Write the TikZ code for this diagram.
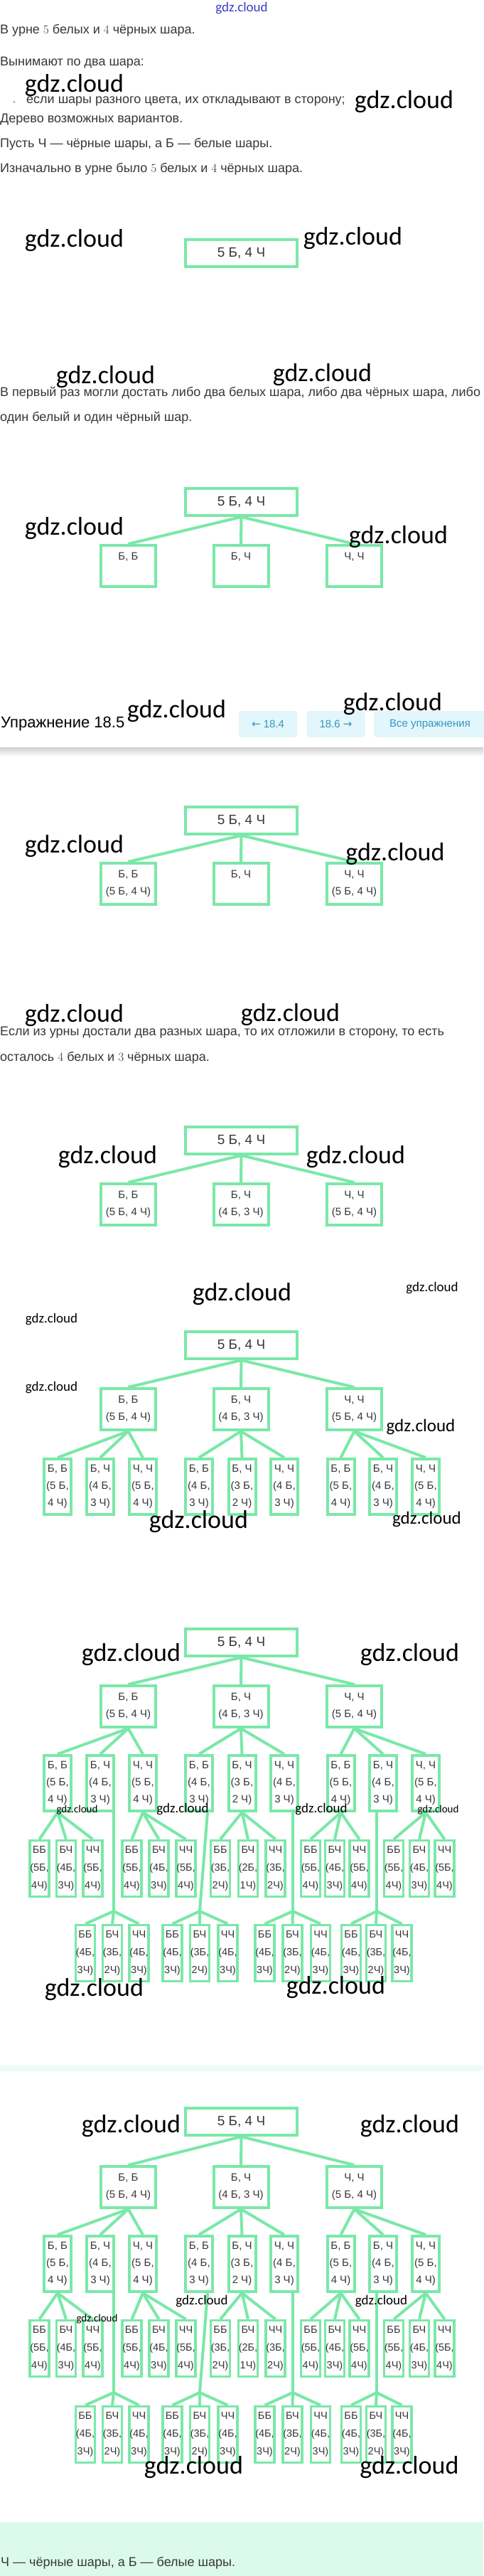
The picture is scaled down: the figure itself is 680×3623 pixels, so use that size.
\documentclass[tikz,border=0pt]{standalone}
\usepackage[no-math]{fontspec}
\setmainfont{Liberation Sans}
\newfontfamily\marcafont{Carlito}
\newfontfamily\flechafont{DejaVu Sans}
\usetikzlibrary{positioning}
\definecolor{menta}{RGB}{122,232,168}
\definecolor{grist}{RGB}{55,55,55}
\definecolor{celeste}{RGB}{226,246,251}
\definecolor{azulb}{RGB}{52,150,190}
\definecolor{fondo}{RGB}{220,250,236}
\definecolor{raya}{RGB}{236,251,248}
\definecolor{tinta}{RGB}{60,60,200}
\tikzset{
  txt/.style={anchor=west, inner sep=0pt, text=grist, font=\fontsize{18}{22}\selectfont},
  marcag/.style={inner sep=0pt, font=\marcafont\fontsize{36}{36}\selectfont},
  marcam/.style={inner sep=0pt, font=\marcafont\fontsize{25}{25}\selectfont},
  marcap/.style={inner sep=0pt, font=\marcafont\fontsize{19}{19}\selectfont},
  marcaxs/.style={inner sep=0pt, font=\marcafont\fontsize{15}{15}\selectfont},
  raiz/.style={draw=menta, line width=4pt, minimum width=157pt, minimum height=38pt, inner sep=0pt, text=grist, font=\fontsize{19}{20}\selectfont},
  uno/.style={draw=menta, line width=4pt, minimum width=77pt, minimum height=58pt, inner sep=0pt, align=center, text=grist, font=\fontsize{15}{24}\selectfont},
  dos/.style={draw=menta, line width=4pt, minimum width=38pt, minimum height=78pt, inner sep=0pt, align=center, text=grist, font=\fontsize{15}{24}\selectfont},
  tres/.style={draw=menta, line width=3.5pt, minimum width=27pt, minimum height=79pt, inner sep=0pt, align=center, text=grist, font=\fontsize{14.5}{25}\selectfont},
  rama/.style={draw=menta, line width=4pt},
  boton/.style={fill=celeste, rounded corners=4pt, text=azulb, minimum width=82pt, minimum height=37pt, inner sep=0pt, font=\fontsize{15}{15}\selectfont},
}
\begin{document}
\begin{tikzpicture}[x=1pt,y=-1pt]
\useasboundingbox (0,0) rectangle (680,3623);
\fill[white] (0,0) rectangle (680,3623);
\shade[top color=black!18, bottom color=white] (0,1051) rectangle (680,1064);
\fill[raya] (0,2905) rectangle (680,2913);
\fill[fondo] (0,3547) rectangle (680,3623);

\node[txt] (p1) at (0,43) {В урне $5$ белых и $4$ чёрных шара.};
\node[txt] (p2) at (0,88) {Вынимают по два шара:};
\node[inner sep=0pt, text=gray!60, font=\fontsize{11}{11}\selectfont] (p3) at (20,145) {•};
\node[txt] (p4) at (37,143) {если шары разного цвета, их откладывают в сторону;};
\node[txt] (p5) at (0,168) {Дерево возможных вариантов.};
\node[txt] (p6) at (0,203) {Пусть Ч — чёрные шары, а Б — белые шары.};
\node[txt] (p7) at (0,238) {Изначально в урне было $5$ белых и $4$ чёрных шара.};
\node[txt] (p8) at (0,553) {В первый раз могли достать либо два белых шара, либо два чёрных шара, либо};
\node[txt] (p9) at (0,588) {один белый и один чёрный шар.};
\node[txt] (p10) at (0,1452) {Если из урны достали два разных шара, то их отложили в сторону, то есть};
\node[txt] (p11) at (0,1488) {осталось $4$ белых и $3$ чёрных шара.};
\node[txt] (p12) at (1,3605) {Ч — чёрные шары, а Б — белые шары.};

\node[txt, text=black, font=\fontsize{22}{24}\selectfont] (enc) at (1,1018) {Упражнение 18.5};
\node[boton] (b1) at (377,1018.5) {{\flechafont ←}\ 18.4};
\node[boton] (b2) at (472.5,1018.5) {18.6\ {\flechafont →}};
\node[boton, minimum width=158pt] (b3) at (605,1018.5) {Все упражнения};

\node[raiz] (t1r) at (339.5,356) {5 Б, 4 Ч};

\node[raiz] (t2r) at (339.5,706) {5 Б, 4 Ч};
\node[uno] (t2a) at (180.5,796) {Б, Б\\\phantom{(5 Б, 4 Ч)}};
\node[uno] (t2b) at (339,796) {Б, Ч\\\phantom{(4 Б, 3 Ч)}};
\node[uno] (t2c) at (498.5,796) {Ч, Ч\\\phantom{(5 Б, 4 Ч)}};
\foreach \h in {a,b,c} \draw[rama] (t2r.south) -- (t2\h.north);

\node[raiz] (t3r) at (339.5,1154) {5 Б, 4 Ч};
\node[uno] (t3a) at (180.5,1243) {Б, Б\\(5 Б, 4 Ч)};
\node[uno] (t3b) at (339,1243) {Б, Ч\\\phantom{(4 Б, 3 Ч)}};
\node[uno] (t3c) at (498.5,1243) {Ч, Ч\\(5 Б, 4 Ч)};
\foreach \h in {a,b,c} \draw[rama] (t3r.south) -- (t3\h.north);

\node[raiz] (t4r) at (339.5,1604) {5 Б, 4 Ч};
\node[uno] (t4a) at (180.5,1694) {Б, Б\\(5 Б, 4 Ч)};
\node[uno] (t4b) at (339,1694) {Б, Ч\\(4 Б, 3 Ч)};
\node[uno] (t4c) at (498.5,1694) {Ч, Ч\\(5 Б, 4 Ч)};
\foreach \h in {a,b,c} \draw[rama] (t4r.south) -- (t4\h.north);

\foreach \tr/\yr/\yu/\yd in {5/1892/1982/2091, 6/2310/2400/2508, 7/2984/3076/3184}{
  \node[raiz] (t\tr r) at (339.5,\yr) {5 Б, 4 Ч};
  \node[uno] (t\tr a) at (180.5,\yu) {Б, Б\\(5 Б, 4 Ч)};
  \node[uno] (t\tr b) at (339,\yu) {Б, Ч\\(4 Б, 3 Ч)};
  \node[uno] (t\tr c) at (498.5,\yu) {Ч, Ч\\(5 Б, 4 Ч)};
  \foreach \h in {a,b,c} \draw[rama] (t\tr r.south) -- (t\tr\h.north);
  \foreach \x/\p/\e/\w/\z [count=\k] in {81/a/{Б, Б}/5 Б/4 Ч, 141/a/{Б, Ч}/4 Б/3 Ч, 201/a/{Ч, Ч}/5 Б/4 Ч,
      280/b/{Б, Б}/4 Б/3 Ч, 340.5/b/{Б, Ч}/3 Б/2 Ч, 400/b/{Ч, Ч}/4 Б/3 Ч,
      479.5/c/{Б, Б}/5 Б/4 Ч, 539/c/{Б, Ч}/4 Б/3 Ч, 599/c/{Ч, Ч}/5 Б/4 Ч}{
    \node[dos] (t\tr d\k) at (\x,\yd) {\e\\(\w,\\\z)};
    \draw[rama] (t\tr\p.south) -- (t\tr d\k.north);
  }
}

\foreach \tr/\yt/\yj/\yq in {6/2628/2688/2747, 7/3303/3365/3424}{
  \foreach \x/\p/\e/\w/\z [count=\k] in {55.5/1/ББ/5Б/4Ч, 93/1/БЧ/4Б/3Ч, 130.5/1/ЧЧ/5Б/4Ч,
      185.5/3/ББ/5Б/4Ч, 223.5/3/БЧ/4Б/3Ч, 261.5/3/ЧЧ/5Б/4Ч,
      310/5/ББ/3Б/2Ч, 349/5/БЧ/2Б/1Ч, 387.5/5/ЧЧ/3Б/2Ч,
      437/7/ББ/5Б/4Ч, 471/7/БЧ/4Б/3Ч, 505.5/7/ЧЧ/5Б/4Ч,
      554/9/ББ/5Б/4Ч, 590/9/БЧ/4Б/3Ч, 625.5/9/ЧЧ/5Б/4Ч}{
    \node[tres] (t\tr u\k) at (\x,\yt) {\e\\(\w,\\\z)};
    \draw[rama] (t\tr d\p.south) -- (t\tr u\k.north);
  }
  \foreach \s/\dx/\xj [count=\m] in {2/19/160, 4/12/281, 6/12/412, 8/-9/530}{
    \coordinate (t\tr j\m) at (\xj,\yj);
    \draw[rama] ([xshift=\dx pt]t\tr d\s.south) -- (t\tr j\m);
  }
  \foreach \x/\m/\e/\w/\z [count=\k] in {120/1/ББ/4Б/3Ч, 158/1/БЧ/3Б/2Ч, 195.5/1/ЧЧ/4Б/3Ч,
      242.5/2/ББ/4Б/3Ч, 281/2/БЧ/3Б/2Ч, 320.5/2/ЧЧ/4Б/3Ч,
      372.5/3/ББ/4Б/3Ч, 411.5/3/БЧ/3Б/2Ч, 451/3/ЧЧ/4Б/3Ч,
      494/4/ББ/4Б/3Ч, 529/4/БЧ/3Б/2Ч, 565.5/4/ЧЧ/4Б/3Ч}{
    \node[tres] (t\tr v\k) at (\x,\yq) {\e\\(\w,\\\z)};
    \draw[rama] (t\tr j\m) -- (t\tr v\k.north);
  }
}

\node[marcap, text=tinta] (m0) at (340,12) {gdz.cloud};
\foreach \x/\y [count=\k] in {104.5/120, 568.5/143, 104.5/338, 496.5/335, 148.5/530, 453.5/527,
    104.5/743, 560.5/755, 248.5/1000, 552.5/990, 104.5/1190, 556/1201, 104.5/1428, 408.5/1427,
    151.5/1627, 500.5/1627, 340.5/1820, 279.5/2140, 184.5/2327, 576.5/2327, 132.5/2798, 472.5/2795,
    184.5/2990, 576.5/2990, 272.5/3470, 576/3470}
  \node[marcag] (mg\k) at (\x,\y) {gdz.cloud};
\foreach \x/\y [count=\k] in {592/2007, 600.5/2137}
  \node[marcam] (mm\k) at (\x,\y) {gdz.cloud};
\foreach \x/\y [count=\k] in {608/1812, 72.5/1856, 72.5/1952, 257/2545, 452/2545, 284/3236, 536.5/3236}
  \node[marcap] (mp\k) at (\x,\y) {gdz.cloud};
\foreach \x/\y [count=\k] in {108.5/2546, 616.5/2546, 136.5/3262}
  \node[marcaxs] (mx\k) at (\x,\y) {gdz.cloud};
\end{tikzpicture}
\end{document}
